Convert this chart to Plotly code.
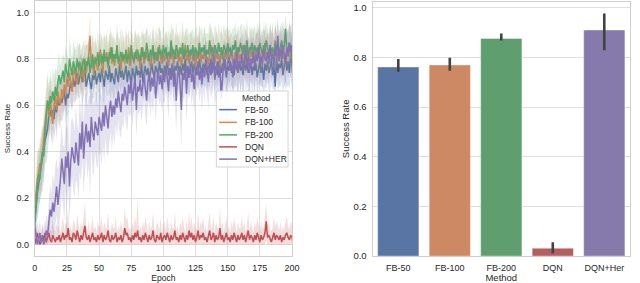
import plotly.graph_objects as go

# ---------------- data: learning curves (success rate per epoch) ----------------
fb50 = [0.10,0.18,0.22,0.26,0.30,0.33,0.36,0.40,0.45,0.47,0.50,
 0.56,0.58,0.55,0.58,0.54,0.60,0.57,0.62,0.60,0.63,
 0.61,0.64,0.66,0.60,0.65,0.63,0.67,0.70,0.66,0.72,
 0.68,0.71,0.74,0.69,0.72,0.75,0.70,0.73,0.76,0.68,
 0.72,0.74,0.70,0.67,0.73,0.71,0.75,0.69,0.72,0.74,
 0.70,0.76,0.72,0.68,0.75,0.73,0.71,0.77,0.70,0.74,
 0.72,0.69,0.76,0.73,0.70,0.78,0.72,0.75,0.71,0.74,
 0.77,0.70,0.75,0.73,0.68,0.76,0.74,0.71,0.77,0.73,
 0.75,0.72,0.78,0.70,0.74,0.77,0.73,0.76,0.71,0.75,
 0.78,0.74,0.72,0.77,0.75,0.73,0.79,0.74,0.76,0.72,
 0.77,0.75,0.79,0.73,0.76,0.74,0.78,0.72,0.77,0.75,
 0.79,0.74,0.77,0.73,0.78,0.75,0.80,0.74,0.77,0.72,
 0.76,0.79,0.74,0.78,0.75,0.77,0.73,0.80,0.76,0.74,
 0.78,0.75,0.79,0.73,0.77,0.76,0.80,0.74,0.78,0.75,
 0.77,0.73,0.79,0.76,0.74,0.78,0.75,0.80,0.72,0.77,
 0.75,0.79,0.74,0.77,0.73,0.78,0.76,0.74,0.79,0.75,
 0.77,0.73,0.80,0.75,0.78,0.74,0.76,0.79,0.73,0.77,
 0.75,0.78,0.72,0.76,0.79,0.74,0.77,0.71,0.78,0.75,
 0.79,0.74,0.76,0.80,0.73,0.77,0.68,0.81,0.74,0.78,
 0.76,0.80,0.73,0.77,0.82,0.75,0.79,0.74,0.83,0.77,0.71]

fb100 = [0.17,0.24,0.28,0.31,0.35,0.33,0.40,0.45,0.52,0.58,0.62,
 0.55,0.63,0.57,0.52,0.60,0.64,0.58,0.66,0.62,0.60,
 0.67,0.63,0.69,0.65,0.72,0.68,0.74,0.70,0.66,0.73,
 0.76,0.71,0.69,0.75,0.78,0.72,0.77,0.70,0.80,0.74,
 0.78,0.82,0.90,0.76,0.79,0.73,0.81,0.77,0.75,0.80,
 0.84,0.78,0.74,0.81,0.79,0.83,0.76,0.80,0.85,0.78,
 0.82,0.77,0.80,0.84,0.79,0.81,0.75,0.83,0.80,0.78,
 0.82,0.79,0.85,0.77,0.80,0.83,0.78,0.81,0.84,0.79,
 0.82,0.76,0.80,0.85,0.78,0.81,0.83,0.79,0.82,0.77,
 0.81,0.84,0.78,0.80,0.83,0.79,0.86,0.80,0.78,0.82,
 0.79,0.84,0.81,0.77,0.83,0.80,0.85,0.78,0.82,0.80,
 0.84,0.79,0.81,0.77,0.83,0.80,0.86,0.79,0.82,0.78,
 0.81,0.84,0.79,0.82,0.76,0.83,0.80,0.85,0.78,0.82,
 0.80,0.84,0.79,0.81,0.77,0.83,0.86,0.80,0.82,0.78,
 0.84,0.80,0.82,0.77,0.85,0.81,0.79,0.83,0.80,0.86,
 0.79,0.82,0.84,0.78,0.81,0.83,0.80,0.85,0.79,0.82,
 0.80,0.86,0.81,0.78,0.84,0.82,0.79,0.85,0.81,0.83,
 0.78,0.84,0.80,0.86,0.82,0.79,0.83,0.81,0.87,0.80,
 0.83,0.79,0.85,0.81,0.84,0.80,0.88,0.82,0.79,0.85,
 0.81,0.86,0.80,0.83,0.78,0.85,0.82,0.87,0.80,0.84,0.81]

fb200 = [0.08,0.20,0.25,0.30,0.28,0.36,0.40,0.38,0.48,0.55,0.62,
 0.58,0.64,0.61,0.66,0.62,0.68,0.64,0.70,0.73,0.69,
 0.72,0.75,0.70,0.78,0.74,0.72,0.80,0.76,0.73,0.79,
 0.77,0.74,0.80,0.76,0.79,0.73,0.78,0.80,0.75,0.79,
 0.77,0.81,0.74,0.79,0.82,0.76,0.80,0.78,0.83,0.77,
 0.80,0.82,0.78,0.84,0.79,0.81,0.77,0.83,0.80,0.85,
 0.79,0.82,0.80,0.86,0.78,0.81,0.83,0.79,0.82,0.80,
 0.84,0.78,0.82,0.80,0.86,0.81,0.79,0.83,0.80,0.84,
 0.82,0.79,0.85,0.81,0.83,0.80,0.87,0.82,0.79,0.84,
 0.81,0.86,0.80,0.83,0.79,0.85,0.82,0.84,0.80,0.86,
 0.82,0.85,0.80,0.83,0.81,0.88,0.82,0.84,0.80,0.86,
 0.83,0.81,0.85,0.82,0.87,0.80,0.84,0.82,0.86,0.81,
 0.84,0.82,0.86,0.80,0.85,0.83,0.81,0.87,0.82,0.85,
 0.83,0.86,0.81,0.84,0.82,0.88,0.83,0.85,0.81,0.86,
 0.84,0.82,0.87,0.83,0.85,0.80,0.86,0.84,0.82,0.87,
 0.83,0.85,0.81,0.86,0.84,0.88,0.82,0.85,0.83,0.87,
 0.84,0.82,0.86,0.83,0.88,0.81,0.85,0.84,0.87,0.82,
 0.86,0.83,0.85,0.81,0.87,0.84,0.82,0.86,0.83,0.88,
 0.84,0.82,0.86,0.83,0.85,0.81,0.87,0.84,0.86,0.82,
 0.85,0.88,0.83,0.86,0.93,0.84,0.82,0.87,0.85,0.80,0.84]

dqn = [0.00,0.03,0.05,0.02,0.00,0.01,0.04,0.02,0.05,0.01,0.03,
 0.05,0.02,0.01,0.04,0.02,0.01,0.03,0.02,0.04,0.01,
 0.03,0.05,0.02,0.04,0.03,0.07,0.02,0.03,0.01,0.05,
 0.04,0.02,0.06,0.03,0.01,0.04,0.02,0.05,0.08,0.03,
 0.02,0.04,0.01,0.03,0.05,0.02,0.03,0.01,0.04,0.02,
 0.03,0.05,0.01,0.04,0.02,0.03,0.06,0.02,0.01,0.04,
 0.02,0.03,0.05,0.01,0.03,0.02,0.04,0.01,0.03,0.07,
 0.04,0.05,0.02,0.03,0.01,0.04,0.02,0.05,0.03,0.06,
 0.02,0.03,0.01,0.04,0.02,0.05,0.03,0.01,0.04,0.02,
 0.03,0.06,0.02,0.01,0.04,0.03,0.02,0.05,0.01,0.03,
 0.04,0.02,0.05,0.03,0.01,0.04,0.02,0.03,0.06,0.02,
 0.03,0.01,0.04,0.02,0.05,0.03,0.01,0.04,0.02,0.06,
 0.03,0.05,0.02,0.04,0.01,0.03,0.06,0.02,0.04,0.03,
 0.05,0.02,0.03,0.01,0.04,0.06,0.02,0.03,0.05,0.01,
 0.04,0.02,0.03,0.07,0.02,0.04,0.01,0.03,0.05,0.02,
 0.03,0.01,0.04,0.02,0.05,0.03,0.01,0.04,0.02,0.03,
 0.05,0.02,0.04,0.01,0.03,0.06,0.02,0.04,0.03,0.01,
 0.04,0.02,0.05,0.03,0.01,0.04,0.02,0.03,0.05,0.10,
 0.03,0.04,0.02,0.01,0.03,0.05,0.02,0.04,0.03,0.02,
 0.04,0.01,0.03,0.02,0.04,0.05,0.03,0.02,0.04,0.03,0.00]

dqn_her = [0.08,0.04,0.00,0.02,0.05,0.01,0.03,0.00,0.02,0.06,0.04,
 0.10,0.15,0.12,0.18,0.14,0.20,0.25,0.17,0.22,0.28,
 0.37,0.30,0.26,0.38,0.33,0.40,0.25,0.36,0.42,0.38,
 0.35,0.44,0.39,0.34,0.48,0.41,0.53,0.37,0.46,0.52,
 0.44,0.49,0.42,0.55,0.48,0.45,0.53,0.50,0.47,0.55,
 0.52,0.49,0.57,0.51,0.60,0.54,0.50,0.58,0.62,0.55,
 0.60,0.56,0.63,0.59,0.66,0.61,0.57,0.65,0.62,0.68,
 0.64,0.60,0.69,0.65,0.71,0.62,0.67,0.72,0.58,0.68,
 0.66,0.71,0.64,0.69,0.73,0.67,0.62,0.70,0.74,0.66,
 0.72,0.68,0.75,0.63,0.71,0.76,0.69,0.73,0.67,0.74,
 0.70,0.77,0.72,0.66,0.75,0.71,0.78,0.68,0.74,0.62,
 0.73,0.76,0.69,0.58,0.74,0.71,0.77,0.65,0.75,0.72,
 0.78,0.70,0.74,0.67,0.76,0.73,0.79,0.71,0.75,0.69,
 0.77,0.72,0.80,0.74,0.70,0.78,0.73,0.76,0.81,0.71,
 0.75,0.79,0.72,0.77,0.63,0.74,0.80,0.76,0.73,0.78,
 0.81,0.75,0.78,0.72,0.80,0.76,0.83,0.74,0.79,0.77,
 0.82,0.75,0.79,0.84,0.77,0.81,0.74,0.80,0.78,0.83,
 0.76,0.82,0.79,0.85,0.78,0.81,0.77,0.84,0.80,0.79,
 0.83,0.78,0.86,0.80,0.82,0.77,0.85,0.81,0.90,0.79,
 0.84,0.80,0.86,0.82,0.78,0.85,0.81,0.87,0.83,0.86,0.84]

# half-widths of the 95% confidence bands
fb50_ci = [0.06,0.09,0.11,0.10,0.12,0.11,0.13,0.12,0.10,0.12,0.11,
 0.10,0.09,0.11,0.08,0.10,0.09,0.12,0.08,0.10,0.09,
 0.08,0.10,0.07,0.09,0.08,0.11,0.07,0.09,0.08,0.10,
 0.07,0.09,0.08,0.06,0.09,0.07,0.10,0.08,0.07,0.09,
 0.08,0.06,0.09,0.07,0.10,0.08,0.06,0.09,0.07,0.08,
 0.09,0.07,0.10,0.08,0.06,0.09,0.07,0.11,0.08,0.07,
 0.09,0.06,0.08,0.10,0.07,0.09,0.08,0.06,0.10,0.07,
 0.08,0.09,0.07,0.11,0.08,0.06,0.09,0.07,0.10,0.08,
 0.07,0.09,0.06,0.08,0.10,0.07,0.09,0.08,0.11,0.07,
 0.09,0.06,0.08,0.10,0.07,0.09,0.08,0.06,0.10,0.08,
 0.07,0.09,0.08,0.11,0.06,0.09,0.07,0.10,0.08,0.07,
 0.09,0.08,0.06,0.10,0.07,0.09,0.08,0.11,0.07,0.09,
 0.08,0.06,0.10,0.07,0.09,0.08,0.06,0.10,0.08,0.07,
 0.09,0.07,0.11,0.08,0.06,0.09,0.07,0.10,0.08,0.09,
 0.07,0.10,0.08,0.06,0.09,0.07,0.11,0.08,0.10,0.07,
 0.09,0.08,0.06,0.10,0.07,0.09,0.08,0.11,0.07,0.09,
 0.08,0.10,0.07,0.09,0.06,0.08,0.10,0.07,0.09,0.08,
 0.11,0.07,0.09,0.08,0.10,0.06,0.09,0.07,0.10,0.08,
 0.09,0.07,0.11,0.08,0.06,0.10,0.07,0.09,0.08,0.10,
 0.08,0.10,0.07,0.09,0.12,0.08,0.10,0.07,0.11,0.09,0.08]

fb100_ci = [0.07,0.10,0.12,0.09,0.11,0.13,0.10,0.12,0.11,0.09,0.12,
 0.11,0.09,0.12,0.10,0.08,0.11,0.09,0.10,0.08,0.11,
 0.09,0.07,0.10,0.08,0.11,0.09,0.07,0.10,0.08,0.09,
 0.10,0.08,0.07,0.11,0.09,0.08,0.10,0.07,0.09,0.12,
 0.08,0.10,0.09,0.07,0.11,0.08,0.09,0.10,0.07,0.09,
 0.08,0.11,0.07,0.09,0.10,0.08,0.07,0.10,0.09,0.08,
 0.10,0.07,0.09,0.08,0.11,0.07,0.09,0.10,0.08,0.07,
 0.09,0.11,0.08,0.07,0.10,0.09,0.08,0.11,0.07,0.09,
 0.10,0.08,0.07,0.09,0.11,0.08,0.10,0.07,0.09,0.08,
 0.07,0.10,0.09,0.08,0.11,0.07,0.09,0.10,0.08,0.07,
 0.09,0.08,0.11,0.07,0.10,0.09,0.08,0.07,0.10,0.09,
 0.08,0.10,0.07,0.09,0.11,0.08,0.07,0.10,0.09,0.08,
 0.10,0.07,0.09,0.08,0.11,0.07,0.10,0.09,0.08,0.07,
 0.09,0.10,0.08,0.07,0.11,0.09,0.08,0.10,0.07,0.09,
 0.08,0.11,0.07,0.09,0.10,0.08,0.07,0.10,0.09,0.08,
 0.10,0.08,0.07,0.11,0.09,0.08,0.10,0.07,0.09,0.08,
 0.07,0.10,0.09,0.08,0.11,0.07,0.09,0.10,0.08,0.07,
 0.09,0.08,0.11,0.07,0.10,0.09,0.08,0.07,0.10,0.09,
 0.08,0.10,0.07,0.09,0.11,0.08,0.07,0.10,0.09,0.08,
 0.10,0.07,0.09,0.08,0.11,0.07,0.10,0.09,0.08,0.07,0.09]

fb200_ci = [0.08,0.11,0.13,0.12,0.10,0.12,0.11,0.13,0.12,0.10,0.11,
 0.10,0.12,0.09,0.11,0.10,0.08,0.11,0.09,0.10,0.08,
 0.09,0.07,0.10,0.08,0.09,0.07,0.10,0.08,0.07,0.09,
 0.08,0.10,0.07,0.09,0.08,0.11,0.07,0.08,0.10,0.07,
 0.09,0.08,0.10,0.07,0.09,0.11,0.08,0.07,0.10,0.08,
 0.07,0.09,0.10,0.08,0.07,0.11,0.09,0.08,0.10,0.07,
 0.09,0.08,0.07,0.10,0.09,0.08,0.11,0.07,0.09,0.08,
 0.10,0.07,0.09,0.08,0.11,0.07,0.08,0.10,0.09,0.07,
 0.08,0.10,0.07,0.09,0.08,0.11,0.07,0.09,0.10,0.08,
 0.07,0.09,0.08,0.10,0.07,0.09,0.11,0.08,0.07,0.10,
 0.08,0.07,0.09,0.10,0.08,0.07,0.11,0.09,0.08,0.10,
 0.07,0.09,0.08,0.07,0.10,0.09,0.08,0.11,0.07,0.09,
 0.08,0.10,0.07,0.09,0.08,0.11,0.07,0.08,0.10,0.09,
 0.07,0.08,0.10,0.07,0.09,0.08,0.11,0.07,0.09,0.08,
 0.10,0.07,0.09,0.08,0.07,0.10,0.09,0.08,0.11,0.07,
 0.09,0.08,0.10,0.07,0.09,0.08,0.07,0.10,0.09,0.08,
 0.11,0.07,0.09,0.08,0.10,0.07,0.09,0.08,0.07,0.10,
 0.09,0.08,0.11,0.07,0.09,0.08,0.10,0.07,0.09,0.08,
 0.07,0.10,0.09,0.08,0.11,0.07,0.09,0.08,0.10,0.07,
 0.09,0.08,0.10,0.07,0.06,0.09,0.08,0.10,0.07,0.12,0.09]

dqn_ci = [0.03,0.04,0.05,0.04,0.03,0.04,0.05,0.04,0.06,0.04,0.05,
 0.06,0.04,0.05,0.07,0.04,0.05,0.06,0.04,0.05,0.04,
 0.05,0.07,0.04,0.05,0.06,0.09,0.04,0.05,0.04,0.06,
 0.05,0.04,0.07,0.05,0.04,0.06,0.05,0.07,0.10,0.05,
 0.04,0.06,0.04,0.05,0.07,0.04,0.05,0.04,0.06,0.05,
 0.05,0.07,0.04,0.06,0.05,0.04,0.08,0.05,0.04,0.06,
 0.05,0.04,0.07,0.04,0.05,0.04,0.06,0.05,0.04,0.09,
 0.06,0.07,0.05,0.04,0.05,0.06,0.05,0.07,0.05,0.14,
 0.04,0.05,0.04,0.06,0.05,0.07,0.05,0.04,0.06,0.04,
 0.05,0.08,0.04,0.05,0.06,0.05,0.04,0.07,0.04,0.05,
 0.06,0.04,0.07,0.05,0.04,0.06,0.05,0.04,0.08,0.04,
 0.05,0.04,0.06,0.05,0.07,0.05,0.04,0.06,0.05,0.08,
 0.05,0.07,0.04,0.06,0.05,0.04,0.08,0.05,0.06,0.05,
 0.07,0.04,0.05,0.04,0.06,0.08,0.05,0.04,0.07,0.04,
 0.06,0.05,0.04,0.09,0.05,0.06,0.04,0.05,0.07,0.04,
 0.05,0.04,0.06,0.05,0.07,0.05,0.04,0.06,0.05,0.04,
 0.07,0.05,0.06,0.04,0.05,0.08,0.04,0.06,0.05,0.04,
 0.06,0.05,0.07,0.05,0.04,0.06,0.05,0.04,0.07,0.08,
 0.05,0.06,0.04,0.05,0.04,0.07,0.05,0.06,0.05,0.04,
 0.06,0.04,0.05,0.04,0.06,0.07,0.05,0.04,0.06,0.05,0.04]

dqn_her_ci = [0.06,0.05,0.04,0.05,0.06,0.04,0.05,0.04,0.05,0.07,0.06,
 0.09,0.11,0.10,0.13,0.12,0.14,0.12,0.15,0.13,0.14,
 0.15,0.13,0.16,0.14,0.17,0.15,0.14,0.16,0.13,0.15,
 0.14,0.16,0.13,0.15,0.17,0.14,0.16,0.15,0.18,0.14,
 0.16,0.15,0.22,0.14,0.17,0.15,0.13,0.16,0.14,0.15,
 0.13,0.15,0.14,0.16,0.13,0.15,0.12,0.14,0.13,0.15,
 0.12,0.14,0.11,0.13,0.12,0.14,0.11,0.13,0.12,0.11,
 0.13,0.11,0.12,0.10,0.13,0.11,0.12,0.10,0.12,0.11,
 0.10,0.12,0.11,0.13,0.10,0.12,0.11,0.10,0.12,0.11,
 0.10,0.12,0.09,0.11,0.10,0.12,0.09,0.11,0.10,0.12,
 0.09,0.11,0.10,0.12,0.09,0.11,0.10,0.09,0.12,0.14,
 0.10,0.09,0.11,0.16,0.10,0.09,0.11,0.12,0.10,0.09,
 0.11,0.10,0.09,0.12,0.10,0.09,0.11,0.10,0.09,0.12,
 0.10,0.11,0.09,0.10,0.12,0.09,0.11,0.10,0.09,0.12,
 0.10,0.09,0.11,0.10,0.15,0.11,0.09,0.10,0.12,0.09,
 0.10,0.11,0.09,0.12,0.10,0.09,0.11,0.10,0.09,0.12,
 0.10,0.11,0.09,0.10,0.12,0.09,0.11,0.10,0.09,0.11,
 0.10,0.09,0.12,0.10,0.09,0.11,0.10,0.12,0.09,0.10,
 0.11,0.09,0.10,0.12,0.09,0.11,0.10,0.09,0.08,0.11,
 0.10,0.09,0.11,0.10,0.12,0.09,0.10,0.08,0.11,0.10,0.09]

methods = ["FB-50", "FB-100", "FB-200", "DQN", "DQN+HER"]

# ---------------- data: final success rate (bar chart) ----------------
bar_methods = ["FB-50", "FB-100", "FB-200", "DQN", "DQN+Her"]
bar_values = [0.761, 0.769, 0.876, 0.031, 0.910]
bar_ci_low = [0.742, 0.746, 0.868, 0.011, 0.829]
bar_ci_high = [0.793, 0.799, 0.896, 0.055, 0.977]

# ---------------- styling ----------------
line_colors = ["#4c72b0", "#dd8452", "#55a868", "#c44e52", "#8172b3"]
band_colors = ["rgba(76,114,176,0.2)", "rgba(221,132,82,0.2)", "rgba(85,168,104,0.2)",
               "rgba(196,78,82,0.2)", "rgba(129,114,179,0.2)"]
bar_colors = ["#5975a4", "#cc8963", "#5f9e6e", "#b55d60", "#857aab"]
FONT = "Liberation Sans, Arial, sans-serif"
TXT = "#262626"
GRID = "#dedede"
SPINE = "#cfcfcf"

W, H = 640, 283
L_X0, L_X1 = 32.3, 294.0
R_X0, R_X1 = 376.0, 638.0
TOP, BOT = 1, 27

fig = go.Figure()

series = [fb50, fb100, fb200, dqn, dqn_her]
cis = [fb50_ci, fb100_ci, fb200_ci, dqn_ci, dqn_her_ci]
for name, vals, ci, lc, bc in zip(methods, series, cis, line_colors, band_colors):
    epochs = list(range(len(vals)))
    fig.add_trace(go.Scatter(x=epochs, y=vals, mode="lines", name=name,
                             line=dict(color=lc, width=1.5), xaxis="x", yaxis="y",
                             showlegend=False))
    pairs = list(zip(epochs, vals, ci))
    xs = [p[0] for p in pairs]
    upper = [v + c for _, v, c in pairs]
    lower = [max(0.0, v - c) for _, v, c in pairs]
    fig.add_trace(go.Scatter(x=xs + xs[::-1], y=upper + lower[::-1], fill="toself",
                             fillcolor=bc, line=dict(width=0), mode="lines",
                             hoverinfo="skip", xaxis="x", yaxis="y", showlegend=False))

err_plus = [h - v for h, v in zip(bar_ci_high, bar_values)]
err_minus = [v - l for l, v in zip(bar_ci_low, bar_values)]
fig.add_trace(go.Bar(x=bar_methods, y=bar_values, width=0.8,
                     marker=dict(color=bar_colors, line=dict(color="rgba(255,255,255,0.35)", width=1)),
                     error_y=dict(type="data", array=err_plus, arrayminus=err_minus,
                                  color="#424242", thickness=2.6, width=0),
                     xaxis="x2", yaxis="y2", showlegend=False))


def axis_style(tick_size, grid=True):
    return dict(showline=True, linecolor=SPINE, linewidth=1, mirror=True,
                showgrid=grid, gridcolor=GRID, gridwidth=1, zeroline=False,
                tickfont=dict(family=FONT, size=tick_size, color=TXT),
                ticks="outside", ticklen=3, tickcolor="rgba(0,0,0,0)")


fig.update_layout(
    width=W, height=H,
    margin=dict(l=0, r=0, t=TOP, b=BOT),
    paper_bgcolor="white", plot_bgcolor="white",
    font=dict(family=FONT, size=9, color=TXT),
    xaxis=dict(domain=[L_X0 / W, L_X1 / W], range=[0, 200],
               tickvals=[0, 25, 50, 75, 100, 125, 150, 175, 200],
               title=dict(text="Epoch", font=dict(size=8.5), standoff=0), **axis_style(9)),
    yaxis=dict(domain=[0, 1], range=[-0.05, 1.05],
               tickvals=[0, 0.2, 0.4, 0.6, 0.8, 1.0], tickformat=".1f",
               title=dict(text="Success Rate", font=dict(size=8), standoff=4), **axis_style(9)),
    xaxis2=dict(domain=[R_X0 / W, R_X1 / W], range=[-0.5, 4.5], anchor="y2",
                title=dict(text="Method", font=dict(size=9.5), standoff=0),
                **axis_style(9, grid=False)),
    yaxis2=dict(domain=[0, 0.997], range=[0, 1.024], anchor="x2",
                tickvals=[0, 0.2, 0.4, 0.6, 0.8, 1.0], tickformat=".1f",
                title=dict(text="Success Rate", font=dict(size=9.5), standoff=2),
                **axis_style(9.5)),
)

# legend box (drawn in left-axis domain coordinates)
shapes = [dict(type="rect", xref="x domain", yref="y domain", x0=0.706, x1=0.985,
               y0=0.349, y1=0.647, fillcolor="rgba(255,255,255,0.85)",
               line=dict(color="#d4d4d4", width=1), layer="above")]
annotations = [dict(text="Method", xref="x domain", yref="y domain", x=0.862, y=0.621,
                    showarrow=False, font=dict(family=FONT, size=8.5, color=TXT),
                    xanchor="center", yanchor="middle")]
row_y = [0.574, 0.524, 0.475, 0.428, 0.380]
for name, lc, yy in zip(methods, line_colors, row_y):
    shapes.append(dict(type="line", xref="x domain", yref="y domain", x0=0.717, x1=0.786,
                       y0=yy, y1=yy, line=dict(color=lc, width=1.5), layer="above"))
    annotations.append(dict(text=name, xref="x domain", yref="y domain", x=0.809, y=yy,
                            showarrow=False, xanchor="left", yanchor="middle",
                            font=dict(family=FONT, size=8.5, color=TXT)))
fig.update_layout(shapes=shapes, annotations=annotations)

fig.write_html("out.html", post_script="document.body.style.margin='0';",
               config={"displayModeBar": False})
